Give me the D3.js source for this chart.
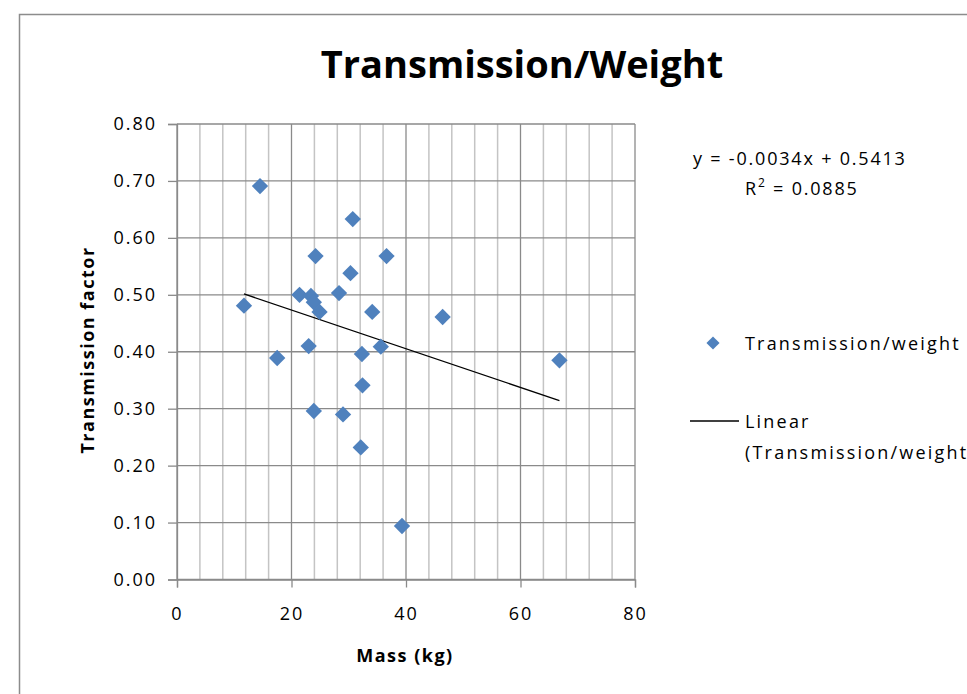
<!DOCTYPE html>
<html>
<head>
<meta charset="utf-8">
<script src="https://cdn.jsdelivr.net/npm/d3@7"></script>
<style>
  body { margin: 0; background: #fff; }
  svg text { font-family: "Open Sans", "Liberation Sans", sans-serif; fill: #000; }
</style>
</head>
<body>
<svg id="chart"></svg>
<script>
// data
var mass = [14.5, 11.7, 17.5, 21.4, 23.4, 23.9, 24.9, 23.0, 24.2, 23.9, 28.3, 29.0,
            30.7, 30.3, 32.3, 32.4, 32.1, 34.1, 35.6, 36.6, 39.3, 46.4, 66.8];
var transmission = [0.691, 0.481, 0.389, 0.500, 0.498, 0.487, 0.470, 0.410, 0.568, 0.296, 0.503, 0.290,
                    0.633, 0.538, 0.396, 0.341, 0.232, 0.470, 0.409, 0.568, 0.094, 0.461, 0.385];
var xTicks = [0, 20, 40, 60, 80];
var yTicks = [0, 0.1, 0.2, 0.3, 0.4, 0.5, 0.6, 0.7, 0.8];
var slope = -0.0034, intercept = 0.5413;          // trendline from the label
var eqText = "y = -0.0034x + 0.5413";
var r2Text = "0.0885";

var points = mass.map(function(m, i){ return {x: m, y: transmission[i]}; });

var svg = d3.select("#chart")
    .attr("width", 967)
    .attr("height", 694);

svg.append("rect").attr("width", 967).attr("height", 694).attr("fill", "#fff");

// outer chart border (runs off the right/bottom)
svg.append("rect")
    .attr("x", 19.5).attr("y", 14.5)
    .attr("width", 1000).attr("height", 1000)
    .attr("fill", "none").attr("stroke", "#8c8c8c").attr("stroke-width", 1.5);

var x = d3.scaleLinear().domain([0, 80]).range([177, 635]);
var y = d3.scaleLinear().domain([0, 0.8]).range([579.5, 124]);

// minor vertical gridlines every 4
var minor = d3.range(4, 80, 4).filter(function(v){ return v % 20 != 0; });
svg.selectAll("line.minor").data(minor).enter()
    .append("line").attr("class", "minor")
    .attr("x1", function(d){ return x(d); }).attr("x2", function(d){ return x(d); })
    .attr("y1", y(0)).attr("y2", y(0.8))
    .attr("stroke", "#c4c4c4").attr("stroke-width", 1.5);

// major gridlines
svg.selectAll("line.vmajor").data(xTicks).enter()
    .append("line").attr("class", "vmajor")
    .attr("x1", function(d){ return x(d); }).attr("x2", function(d){ return x(d); })
    .attr("y1", y(0)).attr("y2", y(0.8))
    .attr("stroke", "#8a8a8a").attr("stroke-width", 1.3);
svg.selectAll("line.hmajor").data(yTicks).enter()
    .append("line").attr("class", "hmajor")
    .attr("x1", x(0)).attr("x2", x(80))
    .attr("y1", function(d){ return y(d); }).attr("y2", function(d){ return y(d); })
    .attr("stroke", "#8a8a8a").attr("stroke-width", 1.3);

// axes
var xAxis = d3.axisBottom(x).tickValues(xTicks).tickSize(8).tickPadding(20)
    .tickFormat(d3.format("d"));
var yAxis = d3.axisLeft(y).tickValues(yTicks).tickSize(9).tickPadding(13)
    .tickFormat(d3.format(".2f"));

var gx = svg.append("g").attr("transform", "translate(0," + y(0) + ")").call(xAxis);
var gy = svg.append("g").attr("transform", "translate(" + x(0) + ",0)").call(yAxis);
[gx, gy].forEach(function(g){
    g.selectAll("path").attr("stroke", "#8a8a8a").attr("stroke-width", 1.3);
    g.selectAll("line").attr("stroke", "#8a8a8a").attr("stroke-width", 1.3);
    g.selectAll("text").attr("font-size", 18).style("letter-spacing", "2px")
        .attr("font-family", "'Open Sans', sans-serif").attr("fill", "#111");
});
gy.selectAll("text").attr("dx", 2);

// trendline
var xmin = d3.min(mass), xmax = d3.max(mass);
svg.append("line")
    .attr("x1", x(xmin)).attr("y1", y(slope * xmin + intercept))
    .attr("x2", x(xmax)).attr("y2", y(slope * xmax + intercept))
    .attr("stroke", "#000").attr("stroke-width", 1.3);

// points
var diamond = d3.symbol().type(d3.symbolDiamond2).size(170);
svg.selectAll("path.pt").data(points).enter()
    .append("path").attr("class", "pt")
    .attr("d", diamond)
    .attr("transform", function(d){ return "translate(" + x(d.x) + "," + y(d.y) + ")"; })
    .attr("fill", "#4f81bd");

// title
svg.append("text")
    .attr("x", 522).attr("y", 78)
    .attr("text-anchor", "middle")
    .attr("font-size", 38).attr("font-weight", "bold")
    .text("Transmission/Weight");

// axis titles
svg.append("text")
    .attr("x", 405).attr("y", 662)
    .attr("text-anchor", "middle")
    .attr("font-size", 18).attr("font-weight", "bold").style("letter-spacing", "1.5px")
    .text("Mass  (kg)");
svg.append("text")
    .attr("transform", "translate(94,350) rotate(-90)")
    .attr("text-anchor", "middle")
    .attr("font-size", 18).attr("font-weight", "bold").style("letter-spacing", "1.5px")
    .text("Transmission  factor");

// trendline equation
svg.append("text")
    .attr("x", 693).attr("y", 165)
    .attr("font-size", 18).style("letter-spacing", "1.8px")
    .text(eqText);
var r2 = svg.append("text")
    .attr("x", 745).attr("y", 195)
    .attr("font-size", 18).style("letter-spacing", "1.8px");
r2.append("tspan").text("R");
r2.append("tspan").attr("dy", -8).attr("font-size", 12).text("2");
r2.append("tspan").attr("dy", 8).text(" = " + r2Text);

// legend
svg.append("path")
    .attr("d", d3.symbol().type(d3.symbolDiamond2).size(110))
    .attr("transform", "translate(713,343)")
    .attr("fill", "#4f81bd");
svg.append("text")
    .attr("x", 745).attr("y", 350)
    .attr("font-size", 18).style("letter-spacing", "2.2px")
    .text("Transmission/weight");
svg.append("line")
    .attr("x1", 690).attr("x2", 739).attr("y1", 421).attr("y2", 421)
    .attr("stroke", "#000").attr("stroke-width", 1.3);
svg.append("text")
    .attr("x", 745).attr("y", 428)
    .attr("font-size", 18).style("letter-spacing", "2.2px")
    .text("Linear");
svg.append("text")
    .attr("x", 745).attr("y", 459)
    .attr("font-size", 18).style("letter-spacing", "2.2px")
    .text("(Transmission/weight)");
</script>
</body>
</html>
